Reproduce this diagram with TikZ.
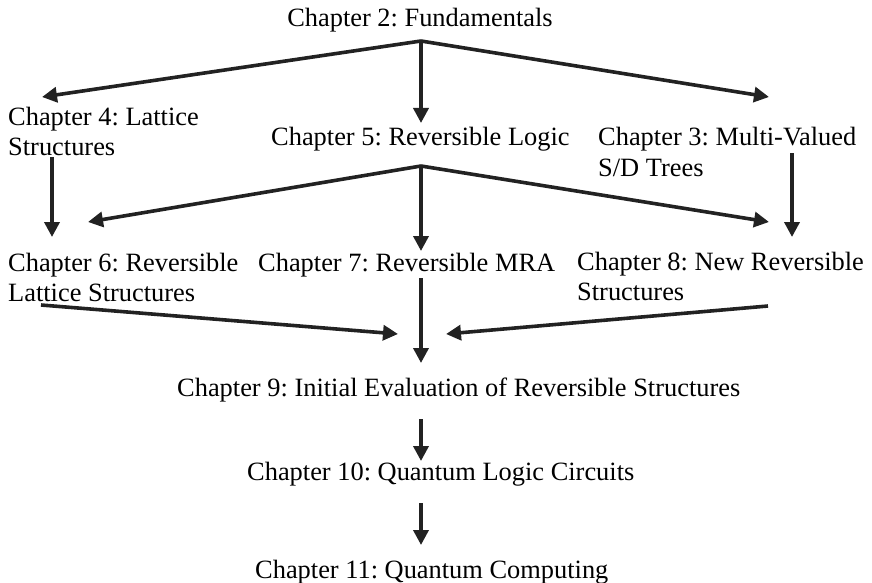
\documentclass[tikz,border=0pt]{standalone}
\usepackage{fontspec}
\setmainfont{Liberation Serif}
\frenchspacing
\usetikzlibrary{arrows.meta}
\definecolor{ink}{HTML}{222222}
\tikzset{
  lbl/.style={inner sep=0pt, anchor=base west, font=\fontsize{26.4}{30}\selectfont, text=black},
  flow/.style={draw=ink, line width=3.6pt, -{Triangle[length=15pt,width=15pt]}}
}
\begin{document}
\begin{tikzpicture}[x=1pt,y=-1pt]
\useasboundingbox (0,0) rectangle (872,583);

% chapter labels
\node[lbl, anchor=base] (ch2) at (420,27) {Chapter 2: Fundamentals};
\node[lbl] (ch4)  at (8,125) {Chapter 4: Lattice};
\node[lbl] (ch4b) at (8,155) {Structures};
\node[lbl] (ch5)  at (271,146) {Chapter 5: Reversible Logic};
\node[lbl] (ch3)  at (598,146) {Chapter 3: Multi-Valued};
\node[lbl] (ch3b) at (598,176) {S/D Trees};
\node[lbl] (ch6)  at (8,271) {Chapter 6: Reversible};
\node[lbl] (ch6b) at (8,301) {Lattice Structures};
\node[lbl] (ch7)  at (258,271) {Chapter 7: Reversible MRA};
\node[lbl] (ch8)  at (577,270) {Chapter 8: New Reversible};
\node[lbl] (ch8b) at (577,300) {Structures};
\node[lbl] (ch9)  at (177,396) {Chapter 9: Initial Evaluation of Reversible Structures};
\node[lbl] (ch10) at (247,480) {Chapter 10: Quantum Logic Circuits};
\node[lbl] (ch11) at (255,578) {Chapter 11: Quantum Computing};

% branch points and arrow ends
\coordinate (s2)  at (421,41);
\coordinate (e4)  at (42,97);
\coordinate (e5)  at (421,123);
\coordinate (e3)  at (769,97);
\coordinate (s4)  at (52,157);
\coordinate (e6)  at (52,237);
\coordinate (s5)  at (421,166);
\coordinate (e6r) at (88,222);
\coordinate (e7)  at (421,251);
\coordinate (e8)  at (769,222);
\coordinate (s3)  at (792,153);
\coordinate (e8b) at (792,237);
\coordinate (s6)  at (41,305);
\coordinate (e9l) at (398,334);
\coordinate (s7)  at (421,278);
\coordinate (e9)  at (421,363);
\coordinate (s8)  at (768,306);
\coordinate (e9r) at (446,334);
\coordinate (s9)  at (421,419);
\coordinate (e10) at (421,461);
\coordinate (s10) at (421,503);
\coordinate (e11) at (421,545);

% connectors
\draw[flow] (s2) -- (e4);
\draw[flow] (s2) -- (e5);
\draw[flow] (s2) -- (e3);
\draw[flow] (s4) -- (e6);
\draw[flow] (s5) -- (e6r);
\draw[flow] (s5) -- (e7);
\draw[flow] (s5) -- (e8);
\draw[flow] (s3) -- (e8b);
\draw[flow] (s6) -- (e9l);
\draw[flow] (s7) -- (e9);
\draw[flow] (s8) -- (e9r);
\draw[flow] (s9) -- (e10);
\draw[flow] (s10) -- (e11);
\end{tikzpicture}
\end{document}
